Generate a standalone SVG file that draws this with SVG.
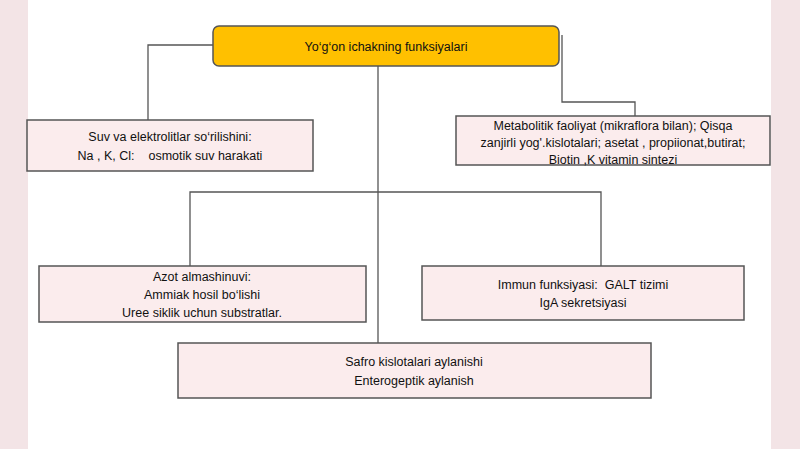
<svg xmlns="http://www.w3.org/2000/svg" width="800" height="449" viewBox="0 0 800 449">
<style>
.b{fill:#fbeced;stroke:#555;stroke-width:1.5}
.t{font-family:"Liberation Sans",Arial,sans-serif;font-size:12.5px;fill:#111;text-anchor:middle}
.c{fill:none;stroke:#555;stroke-width:1.3}
</style>
<rect width="800" height="449" fill="#f3e4e6"/>
<rect x="28" y="0" width="743" height="449" fill="#fff"/>
<g id="connectors">
<polyline class="c" points="213,45 148,45 148,120"/>
<polyline class="c" points="562,35 562,102 635,102 635,117"/>
<line class="c" x1="378" y1="66" x2="378" y2="343"/>
<polyline class="c" points="190,266 190,192 601,192 601,266"/>
</g>
<g id="title"><rect x="213" y="26" width="346" height="40" rx="6" fill="#ffc000" stroke="#555" stroke-width="1.5"/><text class="t" x="386" y="51" font-size="14">Yo‘g‘on ichakning funksiyalari</text></g>
<g id="suv"><rect class="b" x="27" y="120" width="286" height="51"/><text class="t" x="170" y="141">Suv va elektrolitlar so‘rilishini:</text><text class="t" x="170" y="160" xml:space="preserve">Na , K, Cl:    osmotik suv harakati</text></g>
<g id="metab"><rect class="b" x="456" y="116" width="314" height="49"/><text class="t" x="613" y="130">Metabolitik faoliyat (mikraflora bilan); Qisqa</text><text class="t" x="613" y="147">zanjirli yog'.kislotalari; asetat , propiionat,butirat;</text><text class="t" x="613" y="164">Biotin ,K vitamin sintezi</text></g>
<g id="azot"><rect class="b" x="39" y="266" width="327" height="56"/><text class="t" x="202" y="281">Azot almashinuvi:</text><text class="t" x="202" y="299">Ammiak hosil bo‘lishi</text><text class="t" x="202" y="317">Uree siklik uchun substratlar.</text></g>
<g id="immun"><rect class="b" x="422" y="266" width="322" height="54"/><text class="t" x="583" y="289" xml:space="preserve">Immun funksiyasi:  GALT tizimi</text><text class="t" x="583" y="307">IgA sekretsiyasi</text></g>
<g id="safro"><rect class="b" x="178" y="343" width="473" height="55"/><text class="t" x="414" y="366">Safro kislotalari aylanishi</text><text class="t" x="414" y="385">Enterogeptik aylanish</text></g>
</svg>
